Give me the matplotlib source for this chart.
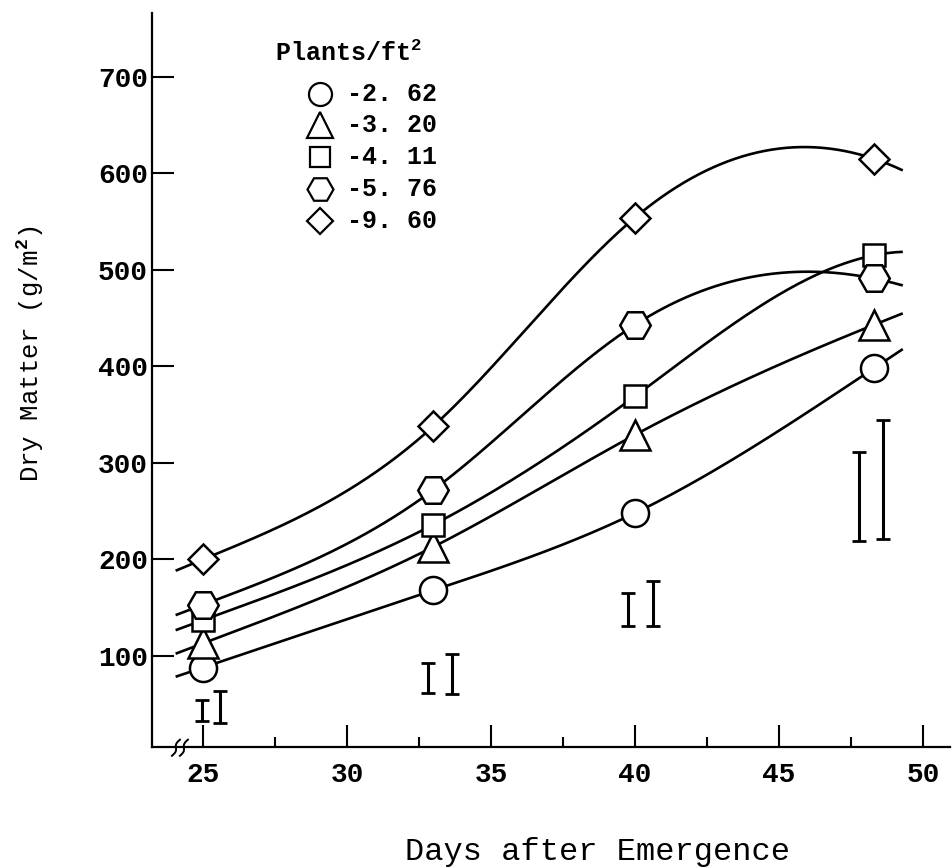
import numpy as np
import matplotlib
matplotlib.use("Agg")
import matplotlib.pyplot as plt

# Sampling days (days after emergence)
days = [25, 33, 40, 48.3]

# Dry matter (g/m^2) for each planting density (plants/ft^2)
dm_262 = [88, 168, 248, 398]
dm_320 = [113, 213, 329, 443]
dm_411 = [137, 236, 369, 515]
dm_576 = [153, 272, 443, 491]
dm_960 = [200, 338, 554, 615]

density_labels = ["-2. 62", "-3. 20", "-4. 11", "-5. 76", "-9. 60"]

# LSD bars drawn in pairs beside each sampling date
lsd_days = [24.95, 25.6, 32.8, 33.65, 39.77, 40.62, 47.78, 48.62]
lsd_low = [33, 31, 62, 61, 131, 131, 219, 221]
lsd_high = [54, 64, 93, 102, 165, 178, 311, 344]

x_ticks = [25, 30, 35, 40, 45, 50]
y_ticks = [100, 200, 300, 400, 500, 600, 700]

FONT = "Liberation Mono"
plt.rcParams["font.family"] = [FONT, "DejaVu Sans"]
plt.rcParams["font.weight"] = "bold"
plt.rcParams["mathtext.fontset"] = "custom"
plt.rcParams["mathtext.rm"] = FONT
plt.rcParams["mathtext.bf"] = FONT + ":bold"
plt.rcParams["mathtext.it"] = FONT


def growth_curve(x, y, xs, end_slope=None):
    """Cubic spline through (x, y): natural at the left end, natural or
    clamped to ``end_slope`` at the right end; extended past both ends."""
    x = np.asarray(x, float)
    y = np.asarray(y, float)
    n = len(x)
    h = np.diff(x)
    s = np.diff(y) / h
    A = np.zeros((n, n))
    r = np.zeros(n)
    A[0, 0] = 1.0
    for i in range(1, n - 1):
        A[i, i - 1] = h[i - 1]
        A[i, i] = 2 * (h[i - 1] + h[i])
        A[i, i + 1] = h[i]
        r[i] = 3 * (s[i] - s[i - 1])
    if end_slope is None:
        A[-1, -1] = 1.0
    else:
        A[-1, -2] = h[-1]
        A[-1, -1] = 2 * h[-1]
        r[-1] = 3 * (end_slope - s[-1])
    c = np.linalg.solve(A, r)
    b = s - h * (2 * c[:-1] + c[1:]) / 3
    d = (c[1:] - c[:-1]) / (3 * h)
    idx = np.clip(np.searchsorted(x, xs) - 1, 0, n - 2)
    dx = xs - x[idx]
    return y[idx] + b[idx] * dx + c[idx] * dx ** 2 + d[idx] * dx ** 3


fig = plt.figure(figsize=(9.52, 8.68), dpi=100)
ax = fig.add_axes([152 / 952, 121 / 868, 798 / 952, 734 / 868])

# (values, marker, marker size, slope of the fitted curve at the last date)
series = [
    (dm_262, "o", 19.5, None),
    (dm_320, "^", 21.5, 12),
    (dm_411, "s", 16.5, 6),
    (dm_576, "H", 22.0, -6),
    (dm_960, "D", 15.0, -10),
]

xs = np.linspace(24.05, 49.3, 300)
for values, marker, size, slope in series:
    ax.plot(xs, growth_curve(days, values, xs, slope), color="black", lw=1.9,
            solid_capstyle="butt", zorder=2)
    ax.plot(days, values, ls="none", marker=marker, ms=size, mfc="white",
            mec="black", mew=1.8, zorder=3)

# LSD bars
lo = np.array(lsd_low, float)
hi = np.array(lsd_high, float)
ax.errorbar(lsd_days, (lo + hi) / 2, yerr=(hi - lo) / 2, fmt="none",
            ecolor="black", elinewidth=2.2, capsize=5, capthick=2, zorder=2)

ax.set_xlim(23.23, 50.94)
ax.set_ylim(5.7, 766)

for side in ("top", "right"):
    ax.spines[side].set_visible(False)
for side in ("left", "bottom"):
    ax.spines[side].set_linewidth(1.6)

ax.set_xticks(x_ticks)
ax.set_xticks([27.5, 32.5, 37.5, 42.5, 47.5], minor=True)
ax.set_yticks(y_ticks)
ax.tick_params(axis="x", which="major", direction="in", length=15.5,
               width=1.5, pad=11, labelsize=20)
ax.tick_params(axis="x", which="minor", direction="in", length=7, width=1.5)
ax.tick_params(axis="y", direction="in", length=16, width=1.5, pad=3,
               labelsize=20)

# Axis break mark on the x axis
for xb in (0.030, 0.040):
    t = np.linspace(0, 1, 20)
    bx = xb - 0.005 + 0.010 * t + 0.002 * np.sin(2 * np.pi * t)
    by = -0.012 + 0.022 * t
    ax.plot(bx, by, transform=ax.transAxes, color="black", lw=1.4,
            clip_on=False, zorder=4)

ax.set_ylabel("Dry Matter (g/m$^{\\mathbf{2}}$)", fontsize=18.5)
ax.yaxis.set_label_coords(-0.133, 0.536)
ax.set_xlabel("Days after Emergence", fontsize=23)
ax.xaxis.set_label_coords(0.558, -0.122)

# Legend: title and marker key
ax.text(0.154, 0.935, "Plants/ft$^{\\mathbf{2}}$", transform=ax.transAxes,
        fontsize=18, ha="left", va="baseline")
row_y = [0.890, 0.848, 0.804, 0.760, 0.716]
for (values, marker, size, _), label, yy in zip(series, density_labels, row_y):
    ax.plot([0.2105], [yy], transform=ax.transAxes, ls="none", marker=marker,
            ms=size * 0.85, mfc="white", mec="black", mew=1.6, clip_on=False)
    ax.text(0.244, yy, label, transform=ax.transAxes, fontsize=18,
            ha="left", va="center")

fig.savefig("out.png", dpi=100, facecolor="white")
